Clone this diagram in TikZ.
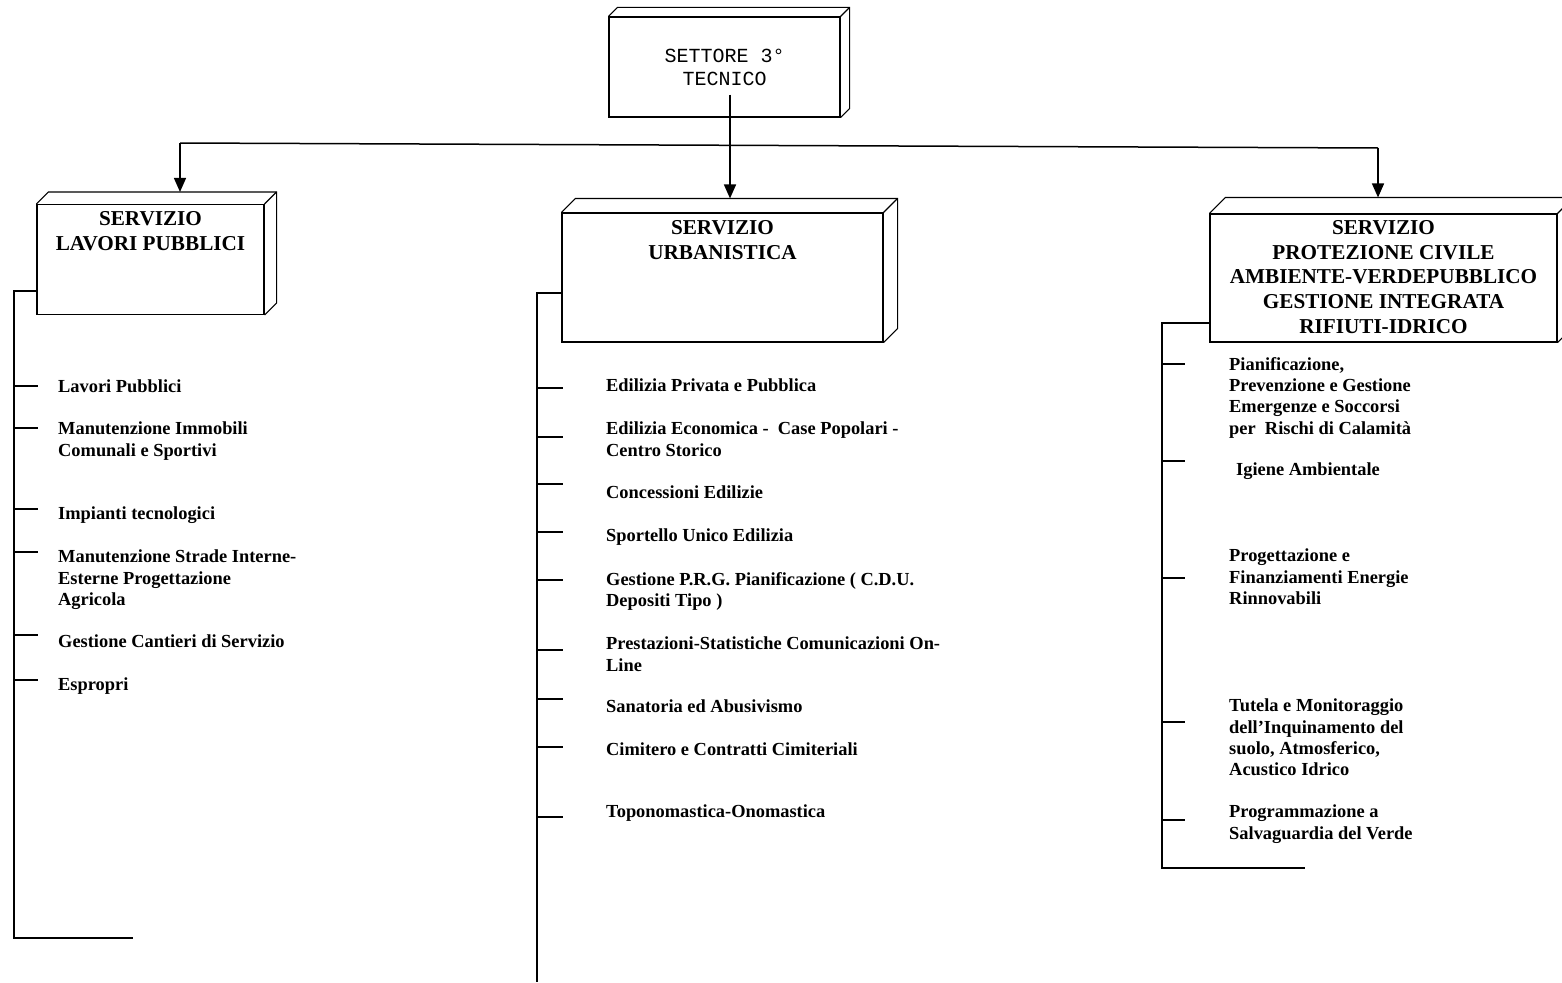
\documentclass[tikz,border=0pt]{standalone}
\usepackage{fontspec}
\setmainfont{Liberation Serif}
\setmonofont{Liberation Mono}
\usetikzlibrary{arrows.meta}

\newcommand{\vocefont}{\fontsize{18.4}{21.3}\selectfont\bfseries}
\newcommand{\servfont}{\fontsize{21.2}{24.8}\selectfont\bfseries}
\newcommand{\settfont}{\fontsize{20}{23}\selectfont\ttfamily}

% front face is the node, top and side faces are added on it
\newcommand{\slabfaces}[2]{%
  \draw[slabline] (#1.north west) -- ++(#2,-#2) -- ([shift={(#2,-#2)}]#1.north east)
    -- ([shift={(#2,-#2)}]#1.south east) -- (#1.south east);
  \draw[slabline] (#1.north east) -- ++(#2,-#2);}

\tikzset{
  slabline/.style={line width=1.1pt},
  slab/.style={draw, slabline, inner sep=0pt},
  conn/.style={line width=1.5pt},
  arr/.style={conn, -{Triangle[length=14pt,width=12pt]}},
  tick/.style={line width=1.3pt},
  voce/.style={anchor=north west, align=left, inner sep=0pt, font=\vocefont},
  testa/.style={anchor=north, align=center, inner sep=0pt, font=\servfont},
}

\begin{document}
\begin{tikzpicture}[x=1pt,y=-1pt]
  \useasboundingbox (0,0) rectangle (1562,982);

  % Settore
  \node[slab, minimum width=231pt, minimum height=100pt, align=center, font=\settfont] (settore) at (724.5,67) {SETTORE 3°\\TECNICO};
  \slabfaces{settore}{9}

  % Servizi
  \node[slab, minimum width=227pt, minimum height=110pt] (lpbox) at (150.5,259.5) {};
  \slabfaces{lpbox}{12}
  \node[testa] (lphead) at (150.5,211) {SERVIZIO\\LAVORI PUBBLICI};

  \node[slab, minimum width=321pt, minimum height=129pt] (urbox) at (722.5,277.5) {};
  \slabfaces{urbox}{14}
  \node[testa] (urhead) at (722.5,220) {SERVIZIO\\URBANISTICA};

  \node[slab, minimum width=347pt, minimum height=128pt] (pcbox) at (1383.5,278) {};
  \slabfaces{pcbox}{16}
  \node[testa] (pchead) at (1383.5,220) {SERVIZIO\\PROTEZIONE CIVILE\\AMBIENTE-VERDEPUBBLICO\\GESTIONE INTEGRATA\\RIFIUTI-IDRICO};

  % Collegamenti
  \coordinate (busL) at (180,143);
  \coordinate (hub) at (730,145);
  \coordinate (busR) at (1378,148);
  \coordinate (lptop) at ([yshift=12pt]lpbox.north);
  \coordinate (urtop) at ([yshift=14pt]urbox.north);
  \coordinate (pctop) at ([yshift=16pt]pcbox.north);
  \draw[conn] (settore.south -| hub) ++(0,-23) -- (hub);
  \draw[conn] (busL) -- (busR);
  \draw[arr] (busL) -- (busL |- lptop);
  \draw[arr] (hub) -- (hub |- urtop);
  \draw[arr] (busR) -- (busR |- pctop);

  % Lavori Pubblici
  \draw[conn] (lpbox.west |- 0,291) -| (14,938) -- (133,938);
  \foreach \y in {386,428,509,552,635,680}
    \draw[tick] (14,\y) -- (38,\y);
  \node[voce] (lp1) at (58,380) {Lavori Pubblici};
  \node[voce] (lp2) at (58,422) {Manutenzione Immobili\\Comunali e Sportivi};
  \node[voce] (lp3) at (58,507) {Impianti tecnologici};
  \node[voce] (lp4) at (58,550) {Manutenzione Strade Interne-\\Esterne Progettazione\\Agricola};
  \node[voce] (lp5) at (58,635) {Gestione Cantieri di Servizio};
  \node[voce] (lp6) at (58,678) {Espropri};

  % Urbanistica
  \draw[conn] (urbox.west |- 0,293) -| (537,982);
  \foreach \y in {388,437,484,532,580,650,699,747,817}
    \draw[tick] (537,\y) -- (563,\y);
  \node[voce] (ur1) at (606,379) {Edilizia Privata e Pubblica};
  \node[voce] (ur2) at (606,422) {Edilizia Economica -\ \ Case Popolari -\\Centro Storico};
  \node[voce] (ur3) at (606,486) {Concessioni Edilizie};
  \node[voce] (ur4) at (606,529) {Sportello Unico Edilizia};
  \node[voce] (ur5) at (606,572) {Gestione P.R.G. Pianificazione ( C.D.U.\\Depositi Tipo )};
  \node[voce] (ur6) at (606,637) {Prestazioni-Statistiche Comunicazioni On-\\Line};
  \node[voce] (ur7) at (606,700) {Sanatoria ed Abusivismo};
  \node[voce] (ur8) at (606,743) {Cimitero e Contratti Cimiteriali};
  \node[voce] (ur9) at (606,805) {Toponomastica-Onomastica};

  % Protezione civile
  \draw[conn] (pcbox.west |- 0,323) -| (1162,868) -- (1305,868);
  \foreach \y in {364,461,578,722,820}
    \draw[tick] (1162,\y) -- (1185,\y);
  \node[voce] (pc1) at (1229,357) {Pianificazione,\\Prevenzione e Gestione\\Emergenze e Soccorsi\\per\ \ Rischi di Calamità};
  \node[voce] (pc2) at (1236,463) {Igiene Ambientale};
  \node[voce] (pc3) at (1229,549) {Progettazione e\\Finanziamenti Energie\\Rinnovabili};
  \node[voce] (pc4) at (1229,699) {Tutela e Monitoraggio\\dell’Inquinamento del\\suolo, Atmosferico,\\Acustico Idrico};
  \node[voce] (pc5) at (1229,805) {Programmazione a\\Salvaguardia del Verde};
\end{tikzpicture}
\end{document}
